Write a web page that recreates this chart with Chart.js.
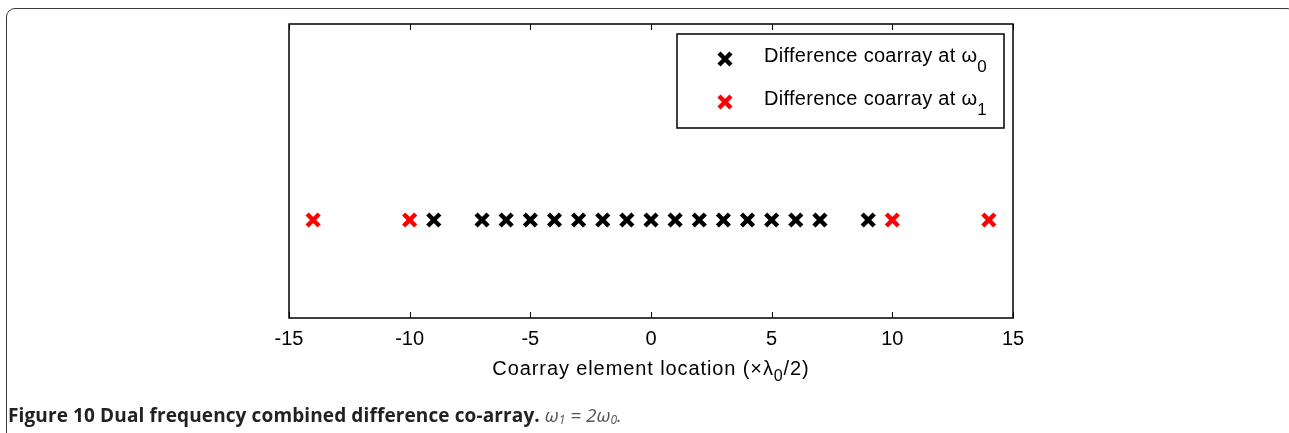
<!DOCTYPE html>
<html lang="en">
<head>
<meta charset="UTF-8">
<title>Dual frequency combined difference co-array</title>
<script src="https://cdn.jsdelivr.net/npm/chart.js"></script>
<style>
  html, body { margin: 0; padding: 0; background: #fff; }
  #page { position: relative; width: 1289px; height: 433px; overflow: hidden; }
  #frame {
    position: absolute; left: 6px; top: 8px; width: 1290px; height: 460px;
    border: 1.5px solid #3a3a3a; border-radius: 9px; box-sizing: border-box;
  }
  #wrap { position: absolute; left: 0; top: 0; width: 1289px; height: 433px; }
  #caption {
    position: absolute; left: 8px; top: 402px; white-space: nowrap;
    font-family: "Open Sans", sans-serif; font-size: 19px; color: #222;
    line-height: 26px;
  }
  #caption b { font-weight: 700; letter-spacing: 0.12px; }
  #caption i { font-family: "Open Sans", sans-serif; font-weight: 400; font-size: 19px; color: #555; }
  #caption sub { font-size: 12px; vertical-align: -2px; }
</style>
</head>
<body>
<div id="page">
  <div id="frame"></div>
  <div id="wrap"><canvas id="chart"></canvas></div>
  <div id="caption"><b>Figure 10 Dual frequency combined difference co-array.</b> <i>ω<sub>1</sub> = 2ω<sub>0</sub>.</i></div>
</div>
<script>
  // coarray element locations (in units of lambda0/2)
  const omega0Locations = [-9, -7, -6, -5, -4, -3, -2, -1, 0, 1, 2, 3, 4, 5, 6, 7, 9];
  const omega1Locations = [-14, -10, 10, 14];
  const rowLevel = 0;
  const xTicks = [-15, -10, -5, 0, 5, 10, 15];
  const legendLabels = ['Difference coarray at ω', 'Difference coarray at ω'];
  const legendSubs = ['0', '1'];
  const seriesColors = ['#000000', '#ff0000'];
  const xTitleParts = ['Coarray element location (×λ', '0', '/2)'];

  const FONT = '"Liberation Sans", Arial, sans-serif';
  const toPoints = arr => arr.map(x => ({ x: x, y: rowLevel }));

  // box, inward ticks, axis title with subscript and the in-plot legend
  const framePlugin = {
    id: 'framePlugin',
    afterDraw(chart) {
      const ctx = chart.ctx;
      const a = chart.chartArea;
      const xs = chart.scales.x;
      ctx.save();
      ctx.strokeStyle = '#000';
      ctx.lineWidth = 1.5;
      ctx.strokeRect(a.left, a.top, a.right - a.left, a.bottom - a.top);
      ctx.lineWidth = 1;
      xTicks.forEach(v => {
        const px = Math.round(xs.getPixelForValue(v)) + 0.5;
        ctx.beginPath();
        ctx.moveTo(px, a.bottom); ctx.lineTo(px, a.bottom - 6);
        ctx.moveTo(px, a.top); ctx.lineTo(px, a.top + 6);
        ctx.stroke();
      });

      // x axis title
      ctx.fillStyle = '#000';
      ctx.textBaseline = 'middle';
      ctx.textAlign = 'left';
      ctx.letterSpacing = '0.9px';
      ctx.font = '20px ' + FONT;
      const w0 = ctx.measureText(xTitleParts[0]).width;
      const w2 = ctx.measureText(xTitleParts[2]).width;
      ctx.font = '16px ' + FONT;
      const w1 = ctx.measureText(xTitleParts[1]).width;
      const cx = (a.left + a.right) / 2;
      let tx = cx - (w0 + w1 + w2) / 2;
      const ty = a.bottom + 51;
      ctx.font = '20px ' + FONT;
      ctx.fillText(xTitleParts[0], tx, ty);
      ctx.font = '16px ' + FONT;
      ctx.fillText(xTitleParts[1], tx + w0, ty + 8);
      ctx.font = '20px ' + FONT;
      ctx.fillText(xTitleParts[2], tx + w0 + w1, ty);

      // legend
      ctx.letterSpacing = '0.3px';
      const lx = a.right - 336, ly = a.top + 10, lw = 327, lh = 94;
      ctx.fillStyle = '#fff';
      ctx.fillRect(lx, ly, lw, lh);
      ctx.lineWidth = 1.5;
      ctx.strokeStyle = '#000';
      ctx.strokeRect(lx, ly, lw, lh);
      legendLabels.forEach((label, i) => {
        const cy = ly + 25 + i * 43;
        const mx = lx + 48;
        ctx.strokeStyle = seriesColors[i];
        ctx.lineWidth = 4.5;
        ctx.beginPath();
        ctx.moveTo(mx - 6, cy - 6); ctx.lineTo(mx + 6, cy + 6);
        ctx.moveTo(mx + 6, cy - 6); ctx.lineTo(mx - 6, cy + 6);
        ctx.stroke();
        ctx.fillStyle = '#000';
        ctx.font = '20px ' + FONT;
        ctx.textBaseline = 'middle';
        ctx.textAlign = 'left';
        const lxText = lx + 87;
        ctx.fillText(label, lxText, cy - 3);
        const w = ctx.measureText(label).width;
        ctx.font = '17px ' + FONT;
        ctx.fillText(legendSubs[i], lxText + w, cy + 8);
      });
      ctx.restore();
    }
  };

  new Chart(document.getElementById('chart'), {
    type: 'scatter',
    data: {
      datasets: [{
        label: 'Difference coarray at ω0',
        data: toPoints(omega0Locations),
        pointStyle: 'crossRot',
        pointRadius: 8.5,
        pointBorderWidth: 4.5,
        borderColor: seriesColors[0],
        backgroundColor: seriesColors[0]
      }, {
        label: 'Difference coarray at ω1',
        data: toPoints(omega1Locations),
        pointStyle: 'crossRot',
        pointRadius: 8.5,
        pointBorderWidth: 4.5,
        borderColor: seriesColors[1],
        backgroundColor: seriesColors[1]
      }]
    },
    options: {
      responsive: true,
      maintainAspectRatio: false,
      animation: false,
      layout: { padding: { left: 289, right: 276, top: 24, bottom: 42 } },
      plugins: { legend: { display: false }, tooltip: { enabled: false } },
      scales: {
        x: {
          type: 'linear',
          min: -15,
          max: 15,
          afterBuildTicks: scale => { scale.ticks = xTicks.map(v => ({ value: v })); },
          afterFit: scale => { scale.height = 73; },
          grid: { display: false, drawTicks: false },
          border: { display: false },
          ticks: {
            padding: 9,
            color: '#000',
            font: { family: FONT, size: 20 }
          }
        },
        y: {
          min: -1,
          max: 2,
          display: false
        }
      }
    },
    plugins: [framePlugin]
  });
</script>
</body>
</html>
